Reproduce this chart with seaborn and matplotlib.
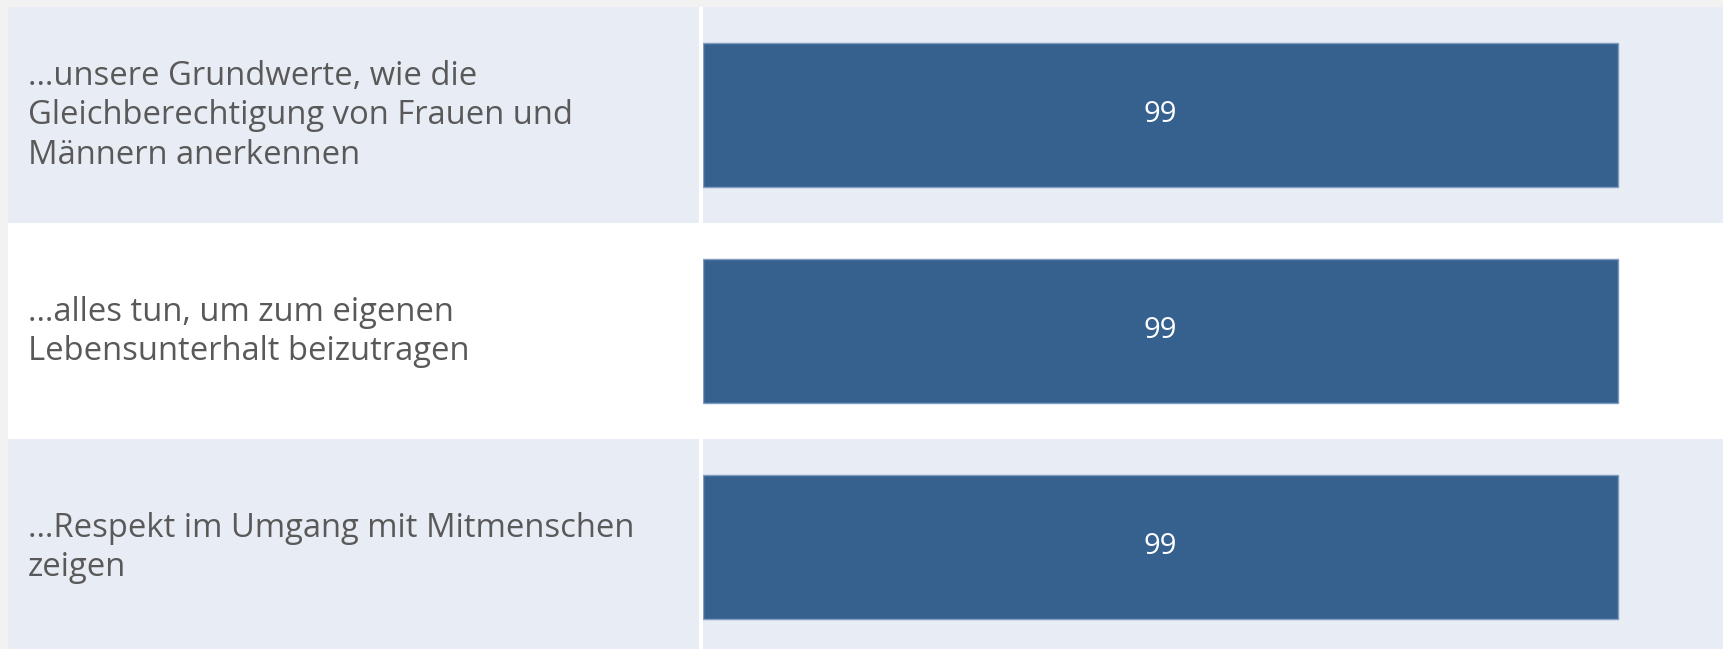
import matplotlib
matplotlib.use("Agg")
import matplotlib.pyplot as plt
from matplotlib.patches import Rectangle
from matplotlib.transforms import blended_transform_factory, offset_copy
import pandas as pd
import seaborn as sns

# ── data ──────────────────────────────────────────────────────────────────────
STATEMENTS = [
    "…unsere Grundwerte, wie die\nGleichberechtigung von Frauen und\nMännern anerkennen",
    "…alles tun, um zum eigenen\nLebensunterhalt beizutragen",
    "…Respekt im Umgang mit Mitmenschen\nzeigen",
]
VALUES = [99, 99, 99]

# ── style ─────────────────────────────────────────────────────────────────────
FIG_BG   = "#f2f2f2"
BAND_BG  = "#e8ecf4"
BAR_BLUE = "#36618f"
BAR_EDGE = "#7f9bbf"
TEXT     = "#595959"

W, H = 1723, 649
sns.set_theme(style="white")
plt.rcParams["font.family"] = ["Open Sans", "DejaVu Sans"]

df = pd.DataFrame({"statement": STATEMENTS, "value": VALUES})
n = len(df)
row_px = 216

fig = plt.figure(figsize=(W / 100, H / 100), dpi=100, facecolor=FIG_BG)

# axes geometry in pixels
top_px = 7
ax_bottom = (H - top_px - n * row_px) / H
ax_height = n * row_px / H
lab_ax = fig.add_axes([8 / W, ax_bottom, (699 - 8) / W, ax_height])
bar_ax = fig.add_axes([703 / W, ax_bottom, (W - 703) / W, ax_height])

# white separator between label column and bars
fig.patches.append(Rectangle((699 / W, 0), 4 / W, (H - top_px) / H,
                             transform=fig.transFigure, facecolor="white",
                             edgecolor="none", zorder=0))

for ax in (lab_ax, bar_ax):
    ax.set_facecolor("white")
    for i in range(n):
        if i % 2 == 0:
            ax.axhspan(i - 0.5, i + 0.5, color=BAND_BG, lw=0, zorder=0)

# bars
sns.barplot(data=df, x="value", y="statement", orient="h", color=BAR_BLUE,
            saturation=1, width=0.668, edgecolor=BAR_EDGE, linewidth=1,
            ax=bar_ax, zorder=2)
bar_ax.bar_label(bar_ax.containers[0], fmt="%d", label_type="center",
                 color="white", fontsize=21)
bar_ax.set_xlim(0, 110.4)

# labels: one line at a time on a fixed baseline grid
LINE_PT = 28.4     # line pitch (~39.5 px)
BASE_PT = 6.8      # baseline sits this far below the row centre
trans = blended_transform_factory(lab_ax.transAxes, lab_ax.transData)
for i, s in enumerate(df["statement"]):
    lines = s.split("\n")
    m = len(lines)
    for k, line in enumerate(lines):
        dy = -(BASE_PT + (k - (m - 1) / 2) * LINE_PT)
        t = offset_copy(trans, fig=fig, y=dy, units="points")
        lab_ax.text(20 / 691, i, line, transform=t, ha="left",
                    va="baseline", fontsize=23.6, color=TEXT)

for ax in (lab_ax, bar_ax):
    ax.set_ylim(n - 0.5, -0.5)
    ax.set_xlabel("")
    ax.set_ylabel("")
    ax.set_xticks([])
    ax.set_yticks([])
    for sp in ax.spines.values():
        sp.set_visible(False)
lab_ax.set_xlim(0, 1)

fig.savefig("out.png", dpi=100, facecolor=FIG_BG)
